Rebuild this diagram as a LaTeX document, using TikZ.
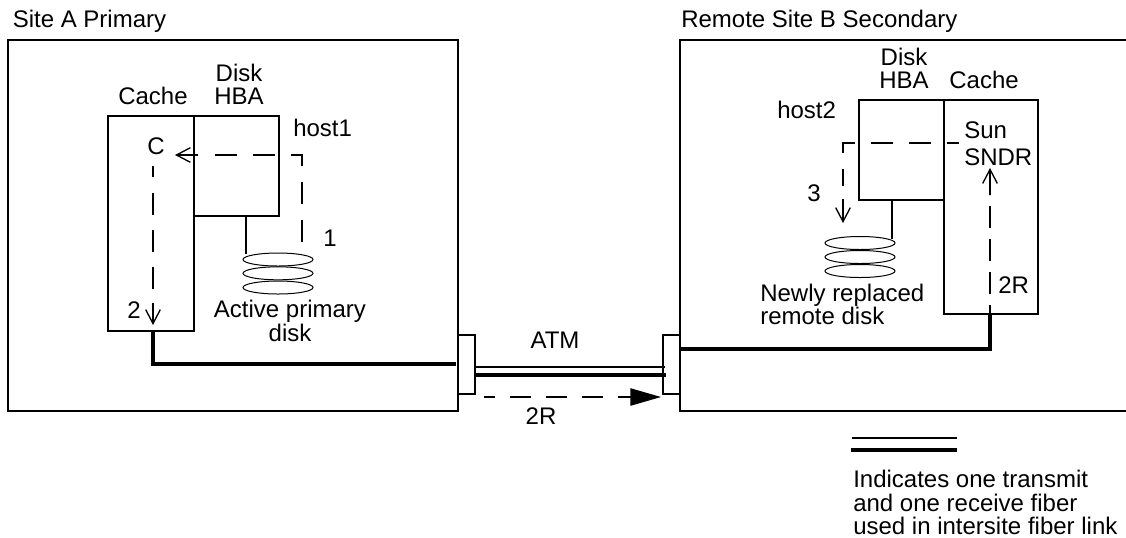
\documentclass[tikz,border=0pt]{standalone}
\usepackage{fontspec}
\setmainfont{Liberation Sans}
\usetikzlibrary{arrows.meta,shapes.geometric}
\tikzset{
  x=0.75pt,y=-0.75pt,
  size/.style 2 args={minimum width=#1*0.75pt,minimum height=#2*0.75pt},
  boxnode/.style={draw=black,line width=1.5pt,inner sep=0pt,outer sep=0pt},
  outline/.style={draw=black,line width=1.5pt},
  disknode/.style={ellipse,draw=black,line width=0.75pt,inner sep=0pt,outer sep=0pt,size={70}{13}},
  heavy/.style={draw=black,line width=2.6pt},
  medium/.style={draw=black,line width=1.7pt},
  plainline/.style={draw=black,line width=1.5pt},
  dashlink/.style={draw=black,line width=1.5pt,dash pattern=on 16.5pt off 12pt},
  opentip/.style={draw=black,line width=1.5pt,-{Straight Barb[length=10.5pt,width=11pt,line width=1pt]}},
  solidtip/.style={draw=black,line width=1pt,-{Triangle[length=23pt,width=13pt]}},
  lab/.style={inner sep=0pt,anchor=base west,font=\fontsize{18pt}{17pt}\selectfont},
  labc/.style={lab,anchor=base},
}
\begin{document}
\begin{tikzpicture}
\useasboundingbox[fill=white] (0,0) rectangle (1126,537);
% sites
\node[boxnode,size={450}{371}] (siteA) at (233,225.5) {};
\coordinate (bTR) at (1126,40);
\coordinate (bTL) at (680,40);
\coordinate (bBL) at (680,411);
\coordinate (bBR) at (1126,411);
\draw[outline] (bTR) -- (bTL) -- (bBL) -- (bBR);
\node[boxnode,size={17}{59}] (connA) at (466.5,364.5) {};
\node[boxnode,size={17}{59}] (connB) at (671.5,364.5) {};
% site A interior
\node[boxnode,size={86}{215}] (cacheA) at (151,223.5) {};
\node[boxnode,size={85}{100}] (hbaA) at (236.5,166) {};
\node[disknode] (d3A) at (278,287.5) {};
\node[disknode] (d2A) at (278,273.3) {};
\node[disknode] (d1A) at (278,259.5) {};
\coordinate (hbaAout) at (246,216);
\coordinate (d1Ain) at (246,254);
\draw[plainline] (hbaAout) -- (d1Ain);
% site B interior
\node[boxnode,size={94}{214}] (cacheB) at (991,207) {};
\node[boxnode,size={85}{100}] (hbaB) at (901.5,150) {};
\node[disknode] (d3B) at (860,271) {};
\node[disknode] (d2B) at (860,257) {};
\node[disknode] (d1B) at (860,243) {};
\coordinate (hbaBout) at (892,200);
\coordinate (d1Bin) at (892,239);
\draw[plainline] (hbaBout) -- (d1Bin);
% heavy site links
\coordinate (cacheAout) at (153,331);
\coordinate (cacheAbend) at (153,364);
\coordinate (siteAin) at (456,364);
\draw[heavy] (cacheAout) -- (cacheAbend) -- (siteAin);
\coordinate (cacheBout) at (990,314);
\coordinate (cacheBbend) at (990,349);
\coordinate (siteBin) at (680,349);
\draw[heavy] (cacheBout) -- (cacheBbend) -- (siteBin);
% ATM fibres
\coordinate (fa1) at (475,367);
\coordinate (fb1) at (665,367);
\coordinate (fa2) at (475,375);
\coordinate (fb2) at (666,375);
\draw[medium] (fa1) -- (fb1);
\draw[heavy] (fa2) -- (fb2);
% dashed A: disk to cache
\coordinate (a0) at (215,155);
\coordinate (a2) at (302,155);
\coordinate (a1) at (302,245);
\draw[dashlink] (a0) -- (a2) -- (a1);
\coordinate (a3s) at (198,155);
\coordinate (a3) at (175,155);
\draw[opentip] (a3s) -- (a3);
% dashed A: cache down
\coordinate (c1) at (153,166);
\coordinate (c2) at (153,303);
\coordinate (c3) at (153,325);
\draw[dashlink,dash pattern=on 16.5pt off 11.5pt,dash phase=8pt] (c1) -- (c2);
\draw[opentip] (c2) -- (c3);
% dashed 2R across the link
\coordinate (r1) at (484,397);
\coordinate (r3) at (630,397);
\coordinate (r2) at (661,397);
\draw[dashlink,dash pattern=on 15.75pt off 11.25pt,dash phase=7.5pt] (r1) -- (r3);
\draw[solidtip] (r3) -- (r2);
% dashed B: cache to disk
\coordinate (b1) at (959,143);
\coordinate (b2) at (843,143);
\coordinate (b3) at (843,186);
\coordinate (b5) at (843,199);
\coordinate (b4) at (843,223);
\draw[dashlink,dash phase=7.5pt] (b1) -- (b2) -- (b3);
\draw[opentip] (b5) -- (b4);
% dashed B: up to SNDR
\coordinate (e1) at (990,314);
\coordinate (e2) at (990,195);
\coordinate (e3) at (990,168);
\draw[dashlink,dash pattern=on 16.5pt off 8.25pt,dash phase=9.75pt] (e1) -- (e2);
\draw[opentip] (e2) -- (e3);
% legend
\coordinate (l1a) at (852,438);
\coordinate (l1b) at (957,438);
\coordinate (l2a) at (851,450);
\coordinate (l2b) at (957,450);
\draw[medium] (l1a) -- (l1b);
\draw[heavy] (l2a) -- (l2b);
% labels
\node[lab] (tA) at (12.5,27) {Site A Primary};
\node[lab] (tB) at (681,27) {Remote Site B Secondary};
\node[labc] (lCacheA) at (153,104) {Cache};
\node[labc] (lDiskA) at (239,81) {Disk};
\node[labc] (lHbaA) at (239,104) {HBA};
\node[lab] (lHost1) at (293,136) {host1};
\node[lab] (lC) at (147,154) {C};
\node[lab] (l1) at (323,246) {1};
\node[lab] (l2) at (127,318) {2};
\node[labc] (lAct) at (290,317) {Active primary};
\node[labc] (lActd) at (290,341) {disk};
\node[labc] (lAtm) at (555,348) {ATM};
\node[labc] (l2Rm) at (541,424) {2R};
\node[labc] (lDiskB) at (904,65) {Disk};
\node[labc] (lHbaB) at (904,88) {HBA};
\node[labc] (lCacheB) at (984,88) {Cache};
\node[lab] (lHost2) at (777,118) {host2};
\node[lab] (lSun) at (964,138) {Sun};
\node[lab] (lSndr) at (964,165) {SNDR};
\node[lab] (l3) at (807,201) {3};
\node[lab] (l2Rb) at (998,293) {2R};
\node[lab] (lNew) at (760,301) {Newly replaced};
\node[lab] (lRem) at (760,324) {remote disk};
\node[lab] (lg1) at (853,487) {Indicates one transmit};
\node[lab] (lg2) at (853,511) {and one receive fiber};
\node[lab] (lg3) at (853,534) {used in intersite fiber link};
\end{tikzpicture}
\end{document}
